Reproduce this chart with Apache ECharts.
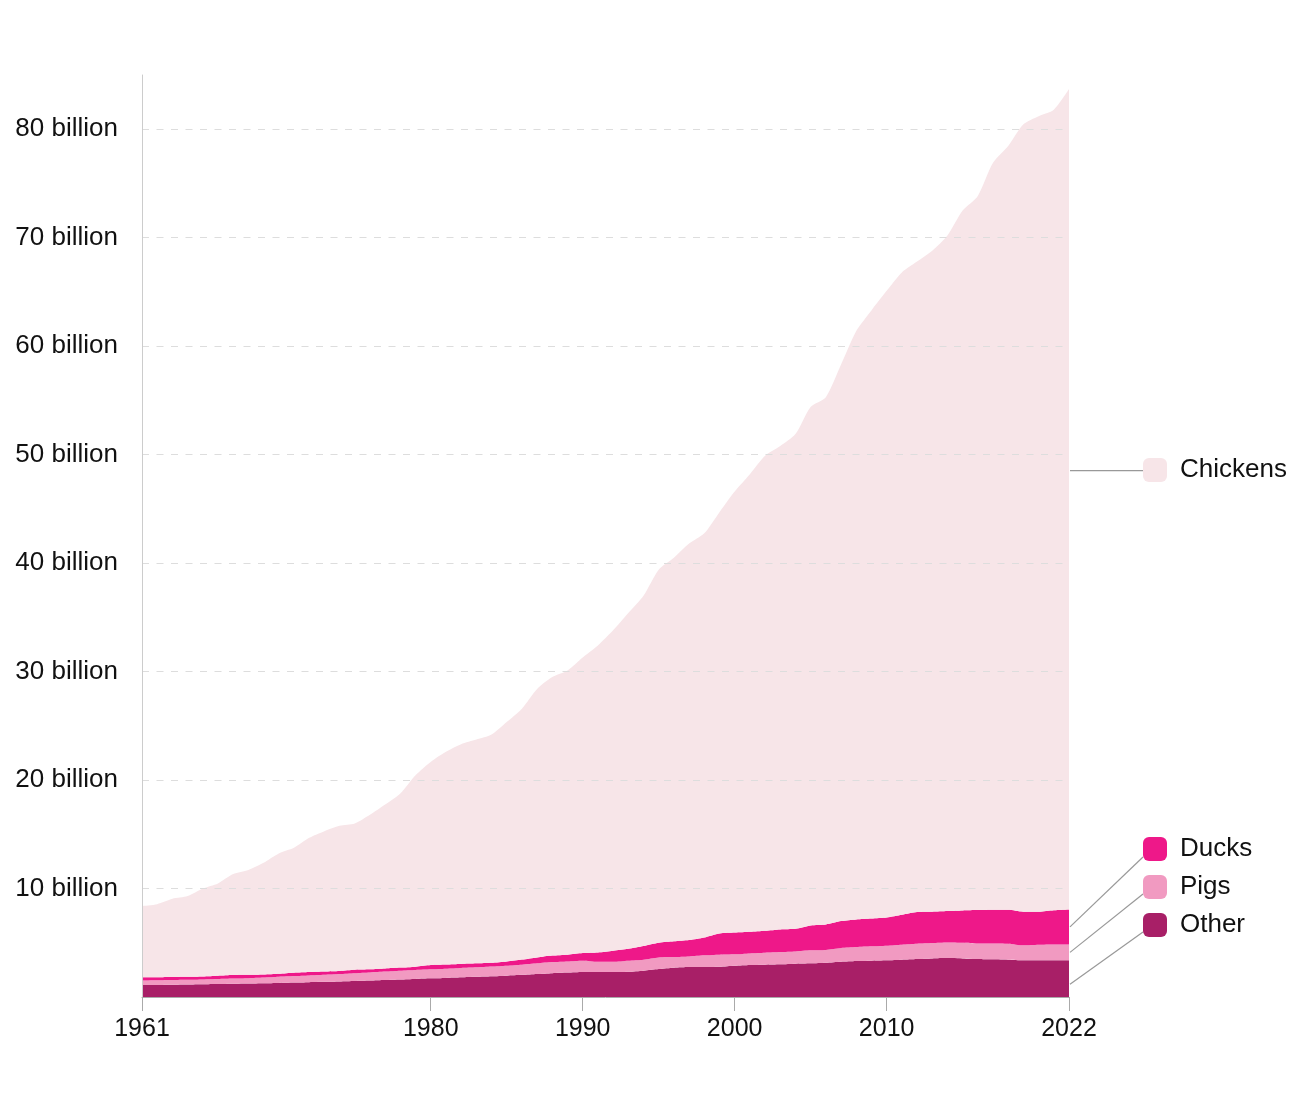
<!DOCTYPE html>
<html>
<head>
<meta charset="utf-8">
<style>
  html, body { margin: 0; padding: 0; background: #fff; }
  #chart { width: 1304px; height: 1119px; }
</style>
<script src="https://cdn.jsdelivr.net/npm/echarts@6/dist/echarts.min.js"></script>
</head>
<body>
<div id="chart"></div>
<script>
// Years 1961–2022
const years = [];
for (let y = 1961; y <= 2022; y++) years.push(String(y));

const xTickLabels = ['1961', '1980', '1990', '2000', '2010', '2022'];

// Values in billions of animals slaughtered
const other = [
  1.10, 1.11, 1.13, 1.15, 1.17, 1.19, 1.22, 1.24, 1.27, 1.30,
  1.33, 1.37, 1.40, 1.44, 1.48, 1.52, 1.57, 1.62, 1.67, 1.72,
  1.76, 1.81, 1.86, 1.91, 1.97, 2.04, 2.12, 2.20, 2.25, 2.30,
  2.30, 2.30, 2.33, 2.43, 2.58, 2.70, 2.76, 2.76, 2.79, 2.88,
  2.95, 2.98, 3.01, 3.07, 3.10, 3.16, 3.25, 3.31, 3.35, 3.38,
  3.44, 3.50, 3.56, 3.59, 3.56, 3.50, 3.47, 3.44, 3.38, 3.38,
  3.38, 3.38
];
const pigs = [
  0.43, 0.44, 0.44, 0.44, 0.45, 0.47, 0.48, 0.50, 0.53, 0.57,
  0.60, 0.62, 0.65, 0.68, 0.72, 0.75, 0.77, 0.80, 0.82, 0.83,
  0.85, 0.87, 0.88, 0.90, 0.92, 0.94, 0.98, 1.02, 1.03, 1.05,
  0.95, 0.95, 1.02, 1.01, 1.07, 0.98, 0.98, 1.08, 1.11, 1.05,
  1.07, 1.10, 1.13, 1.13, 1.20, 1.17, 1.26, 1.29, 1.32, 1.35,
  1.38, 1.41, 1.41, 1.44, 1.44, 1.44, 1.47, 1.47, 1.38, 1.44,
  1.47, 1.47
];
const ducks = [
  0.28, 0.27, 0.27, 0.27, 0.28, 0.31, 0.33, 0.31, 0.28, 0.28,
  0.31, 0.31, 0.30, 0.28, 0.31, 0.28, 0.29, 0.29, 0.31, 0.40,
  0.39, 0.37, 0.36, 0.35, 0.39, 0.47, 0.55, 0.60, 0.62, 0.70,
  0.86, 1.02, 1.10, 1.26, 1.35, 1.45, 1.51, 1.65, 1.96, 2.02,
  2.00, 2.03, 2.09, 2.09, 2.30, 2.36, 2.49, 2.55, 2.57, 2.60,
  2.76, 2.92, 2.89, 2.89, 2.98, 3.07, 3.10, 3.13, 3.10, 3.04,
  3.15, 3.22
];
const chickens = [
  6.59, 6.74, 7.21, 7.44, 8.10, 8.50, 9.30, 9.65, 10.29, 11.08,
  11.51, 12.37, 12.94, 13.38, 13.49, 14.25, 15.11, 16.05, 17.64, 18.72,
  19.60, 20.25, 20.63, 21.04, 22.07, 23.13, 24.75, 25.68, 26.20, 27.25,
  28.29, 29.53, 30.95, 32.30, 34.40, 35.37, 36.55, 37.26, 38.84, 40.65,
  42.18, 43.79, 44.57, 45.61, 47.80, 48.61, 51.30, 54.25, 56.06, 57.77,
  59.22, 59.97, 60.94, 62.28, 64.52, 65.84, 68.86, 70.41, 72.59, 73.34,
  73.80, 75.63
];

const colors = {
  Chickens: '#F7E5E8',
  Ducks: '#EE1889',
  Pigs: '#F19AC1',
  Other: '#A81F67'
};

const FONT = "'Liberation Sans', Arial, Helvetica, sans-serif";
const chart = echarts.init(document.getElementById('chart'), null, { renderer: 'canvas' });

function areaSeries(name, data) {
  return {
    name: name,
    type: 'line',
    stack: 'all',
    data: data,
    smooth: 0.25,
    symbol: 'none',
    showSymbol: false,
    silent: true,
    z: 2,
    lineStyle: { width: 0, color: colors[name] },
    itemStyle: { color: colors[name] },
    areaStyle: { color: colors[name], opacity: 1 },
    emphasis: { disabled: true }
  };
}

const showLabel = (i, v) => xTickLabels.indexOf(v) !== -1;

const legendText = { fontSize: 26, color: '#111', fontFamily: FONT, padding: [0, 0, 0, 8] };

chart.setOption({
  animation: false,
  backgroundColor: '#fff',
  textStyle: { fontFamily: FONT },
  grid: { left: 142, right: 235, top: 75, bottom: 122, containLabel: false },
  legend: [
    {
      data: ['Chickens'],
      left: 1138, top: 452,
      icon: 'roundRect', itemWidth: 24, itemHeight: 24,
      selectedMode: false,
      textStyle: legendText
    },
    {
      data: ['Ducks', 'Pigs', 'Other'],
      orient: 'vertical',
      left: 1138, top: 831,
      itemGap: 12,
      icon: 'roundRect', itemWidth: 24, itemHeight: 24,
      selectedMode: false,
      textStyle: legendText
    }
  ],
  xAxis: {
    type: 'category',
    data: years,
    boundaryGap: false,
    z: 5,
    axisLine: { show: true, lineStyle: { color: '#aaa', width: 1 } },
    axisTick: { show: true, length: 14, interval: showLabel, lineStyle: { color: '#aaa' } },
    axisLabel: { interval: showLabel, fontSize: 25, color: '#111', margin: 20, fontFamily: FONT },
    splitLine: { show: false }
  },
  yAxis: {
    type: 'value',
    min: 0, max: 85, interval: 10,
    z: 5,
    axisLine: { show: true, lineStyle: { color: '#ccc', width: 1 } },
    axisTick: { show: false },
    axisLabel: {
      fontSize: 26, color: '#111', margin: 24, fontFamily: FONT,
      showMaxLabel: false,
      formatter: v => (v === 0 || v % 10 !== 0) ? '' : v + ' billion'
    },
    splitLine: {
      show: true, showMinLine: false, showMaxLine: false,
      lineStyle: { color: '#ddd', type: [7, 7.5], width: 1 }
    }
  },
  series: [
    areaSeries('Other', other),
    areaSeries('Pigs', pigs),
    areaSeries('Ducks', ducks),
    areaSeries('Chickens', chickens)
  ]
});

// Connector lines from the end of each band to its legend entry
const last = years.length - 1;
const endYear = years[last];
const oTop = other[last];
const pTop = oTop + pigs[last];
const dTop = pTop + ducks[last];
const toPx = v => chart.convertToPixel({ xAxisIndex: 0, yAxisIndex: 0 }, [endYear, v]);
const legendX = 1143;
const starts = [
  { from: toPx(dTop + chickens[last] * 0.535), toY: null },
  { from: toPx((pTop + dTop) / 2), toY: 857 },
  { from: toPx((oTop + pTop) / 2), toY: 894 },
  { from: toPx(oTop * 0.35), toY: 932 }
];
const lines = starts.map(s => ({
  type: 'line',
  silent: true,
  shape: {
    x1: s.from[0] + 1, y1: s.from[1],
    x2: legendX, y2: s.toY === null ? s.from[1] : s.toY
  },
  style: { stroke: '#999', lineWidth: 1.2 }
}));
chart.setOption({ graphic: lines });
</script>
</body>
</html>
